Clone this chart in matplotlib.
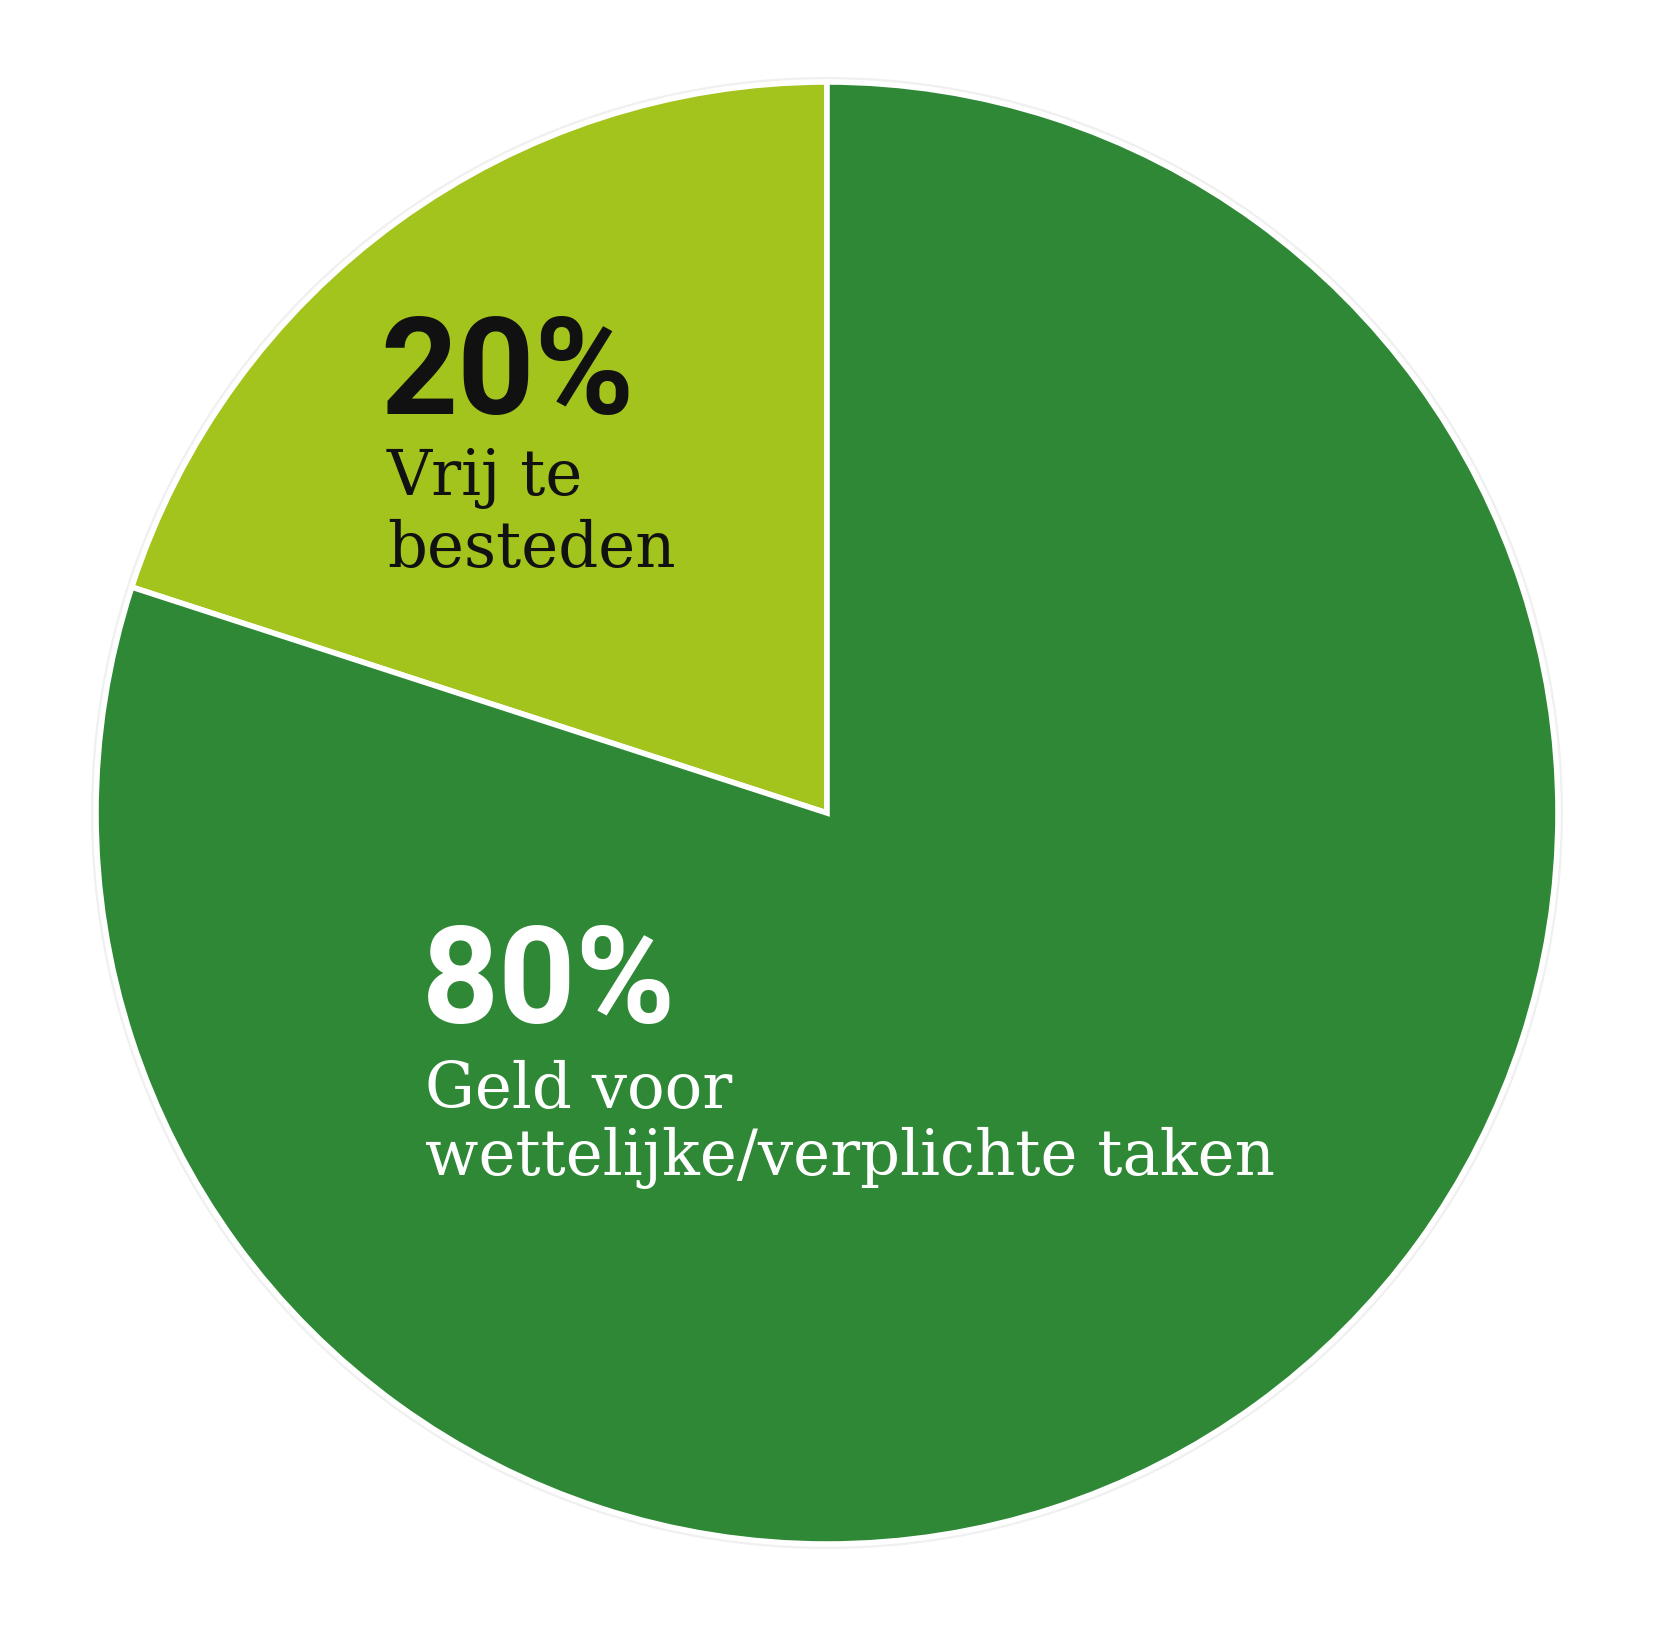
import matplotlib
matplotlib.use("Agg")
import matplotlib.pyplot as plt
from matplotlib.patches import Circle

# Budget split
categories = ["Vrij te besteden", "Geld voor wettelijke/verplichte taken"]
shares = [20, 80]
pct_labels = ["20%", "80%"]
desc_lines = [["Vrij te", "besteden"], ["Geld voor", "wettelijke/verplichte taken"]]

colors = ["#a2c41c", "#2e8836"]
text_colors = ["#111111", "#ffffff"]

W, H = 1654, 1628
fig = plt.figure(figsize=(W / 100, H / 100), dpi=100)
ax = fig.add_axes([0, 0, 1, 1])
ax.set_xlim(0, W)
ax.set_ylim(0, H)
ax.set_aspect("equal")
ax.axis("off")

cx, cy = 827, H - 813
R = 731

# faint outer rim
ax.add_patch(Circle((cx, cy), R + 5, facecolor="#f0f0f0", edgecolor="none", zorder=0))

ax.pie(shares, colors=colors, startangle=90, counterclock=True, radius=R,
       center=(cx, cy), frame=True,
       wedgeprops=dict(edgecolor="white", linewidth=4, joinstyle="miter"))
ax.set_xlim(0, W)
ax.set_ylim(0, H)
ax.axis("off")

# label blocks: x of percentage, x of description, baseline of percentage,
# baselines of description lines
blocks = [
    (380, 387, 414, [495, 567]),
    (422, 425, 1023, [1108, 1175]),
]

for (xp, xd, yb, line_ys), pct, lines, tc in zip(blocks, pct_labels, desc_lines, text_colors):
    ax.text(xp, H - yb, pct, family="Roboto", fontweight="bold", fontsize=97,
            color=tc, ha="left", va="baseline")
    for ly, line in zip(line_ys, lines):
        ax.text(xd, H - ly, line, family="DejaVu Serif", fontsize=45,
                color=tc, ha="left", va="baseline")

fig.savefig("out.png", dpi=100, facecolor="white")
